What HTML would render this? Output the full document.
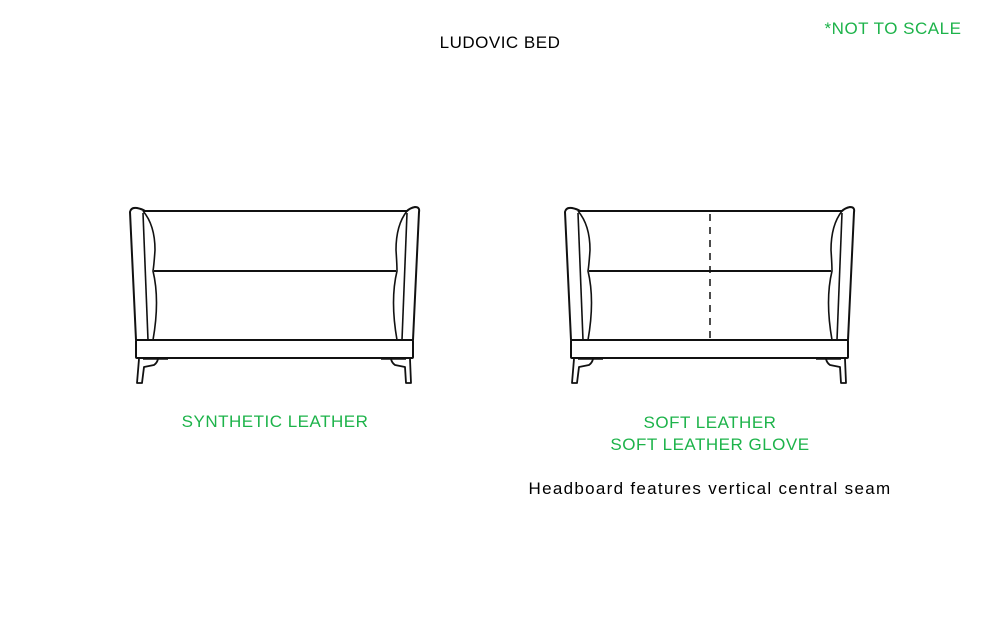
<!DOCTYPE html>
<html><head><style>
body{margin:0;width:1000px;height:625px;background:#fff;position:relative;font-family:"Liberation Sans",sans-serif;overflow:hidden}
.t{position:absolute;font-size:17px;text-align:center;white-space:nowrap;letter-spacing:0.5px}
.g{color:#1db34a}
</style></head><body>
<div class="t" style="left:400px;top:33px;width:200px">LUDOVIC BED</div>
<div class="t g" style="left:803px;top:19px;width:180px">*NOT TO SCALE</div>
<div class="t g" style="left:125px;top:412px;width:300px">SYNTHETIC LEATHER</div>
<div class="t g" style="left:560px;top:412px;width:300px;line-height:22px">SOFT LEATHER<br>SOFT LEATHER GLOVE</div>
<div class="t" style="left:510px;top:479px;width:400px;letter-spacing:1.3px">Headboard features vertical central seam</div>
<svg width="1000" height="625" style="position:absolute;left:0;top:0" fill="none" stroke="#111" stroke-width="2" stroke-linejoin="round">
<defs>
<g id="bed">
<path d="M136 340 L130 212 Q131 207 137 208 Q142 209 145 211 L407 211 Q410 208 415 207 Q420 207 419 212 L413 340"/>
<path d="M143 211 Q155 225 155 250 Q154 265 153 271 Q160 300 153 340" stroke-width="1.6"/>
<path d="M143 213 L148 340" stroke-width="1.6"/>
<path d="M407 211 Q396 225 396 250 Q397 265 397 271 Q390 300 397 340" stroke-width="1.6"/>
<path d="M407 213 L402 340" stroke-width="1.6"/>
<line x1="154" y1="271" x2="396" y2="271"/>
<rect x="136" y="340" width="277" height="18" rx="1"/>
<path d="M143 359 L168 359" stroke-width="1.5"/>
<path d="M139 359 L137 383 L142 383 L144 367 L154 365 Q157 363 158 359" stroke-width="1.8"/>
<path d="M406 359 L381 359" stroke-width="1.5"/>
<path d="M410 359 L411 383 L406 383 L405 367 L395 365 Q392 363 391 359" stroke-width="1.8"/>
</g>
</defs>
<use href="#bed"/>
<use href="#bed" transform="translate(435,0)"/>
<line x1="710" y1="214" x2="710" y2="340" stroke-width="1.5" stroke-dasharray="7,6"/>
</svg>
</body></html>
